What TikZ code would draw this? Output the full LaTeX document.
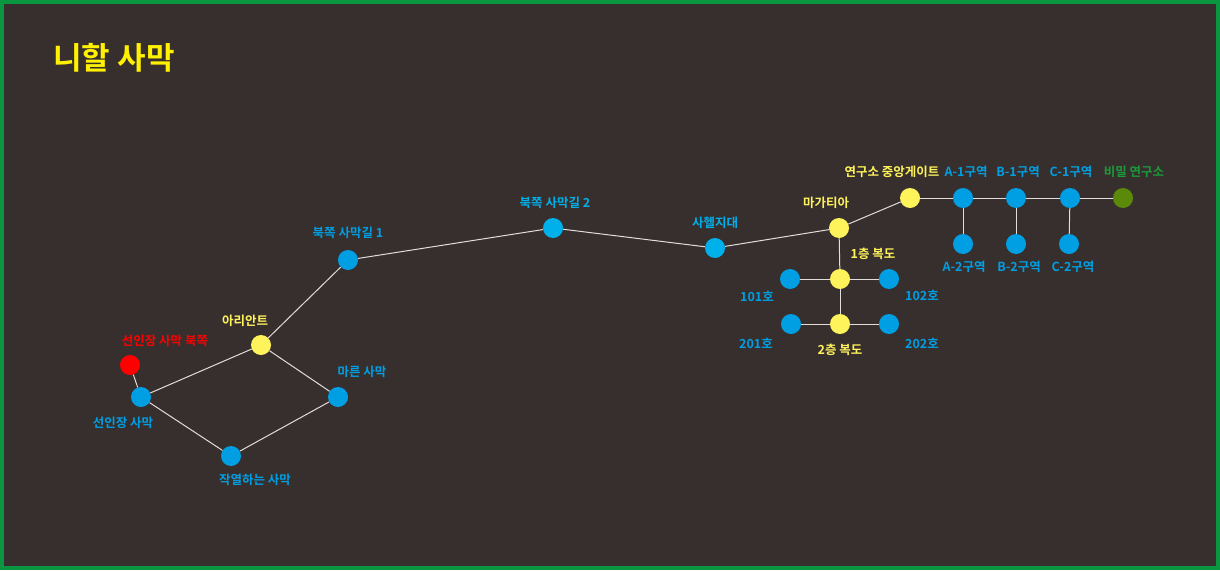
\documentclass[tikz,border=0pt]{standalone}
\usepackage{fontspec}
\newfontfamily\kr{Noto Sans CJK KR}[BoldFont={Noto Sans CJK KR Bold}]
\definecolor{bgc}{HTML}{372F2D}
\definecolor{frame}{HTML}{0A9640}
\definecolor{nblue}{HTML}{009FE3}
\definecolor{nblue2}{HTML}{00B0EB}
\definecolor{nyel}{HTML}{FFF35C}
\definecolor{tyel}{HTML}{FFF35C}
\definecolor{ttl}{HTML}{FFF100}
\definecolor{nred}{HTML}{FF0000}
\definecolor{ngreen}{HTML}{5B8A0A}
\definecolor{tgreen}{HTML}{1A9A3A}
\definecolor{edgec}{HTML}{E0DDDA}
\tikzset{
  dot/.style={circle, inner sep=0pt, minimum size=20pt},
  bdot/.style={dot, fill=nblue},
  b2dot/.style={dot, fill=nblue2},
  ydot/.style={dot, fill=nyel},
  lab/.style={font=\kr\bfseries\fontsize{12.5}{14}\selectfont, inner sep=0pt},
  blab/.style={lab, text=nblue},
  b2lab/.style={lab, text=nblue2},
  ylab/.style={lab, text=tyel},
  edge/.style={draw=edgec, line width=1pt}
}
\begin{document}
\begin{tikzpicture}[x=1pt,y=-1pt]
\fill[frame] (0,0) rectangle (1220,570);
\fill[bgc] (4,4) rectangle (1216,566);
\useasboundingbox (0,0) rectangle (1220,570);
\node[font=\kr\bfseries\fontsize{31}{35}\selectfont, text=ttl, inner sep=0pt] (title) at (114,58) {니할 사막};
% nodes
\node[dot, fill=nred] (cn) at (130,365) {};
\node[bdot] (cs) at (141,397) {};
\node[ydot] (ar) at (261,345) {};
\node[bdot] (mr) at (338,397) {};
\node[bdot] (jy) at (231,456) {};
\node[bdot] (n1) at (348,260) {};
\node[b2dot] (n2) at (553,228) {};
\node[b2dot] (sh) at (715,248) {};
\node[ydot] (mg) at (839,228) {};
\node[ydot] (gt) at (910,198) {};
\node[bdot] (a1) at (963,198) {};
\node[bdot] (b1) at (1016,198) {};
\node[bdot] (c1) at (1070,198) {};
\node[dot, fill=ngreen] (sl) at (1123,198) {};
\node[bdot] (a2) at (963,244) {};
\node[bdot] (b2) at (1016,244) {};
\node[bdot] (c2) at (1069,244) {};
\node[ydot] (f1) at (840,279) {};
\node[bdot] (r101) at (790,279) {};
\node[bdot] (r102) at (889,279) {};
\node[ydot] (f2) at (840,324) {};
\node[bdot] (r201) at (791,324) {};
\node[bdot] (r202) at (889,324) {};
% edges
\path[edge] (cn) -- (cs);
\path[edge] (cs) -- (ar);
\path[edge] (cs) -- (jy);
\path[edge] (jy) -- (mr);
\path[edge] (mr) -- (ar);
\path[edge] (ar) -- (n1);
\path[edge] (n1) -- (n2);
\path[edge] (n2) -- (sh);
\path[edge] (sh) -- (mg);
\path[edge] (mg) -- (gt);
\path[edge] (mg) -- (f1);
\path[edge] (f1) -- (r101);
\path[edge] (f1) -- (r102);
\path[edge] (f1) -- (f2);
\path[edge] (f2) -- (r201);
\path[edge] (f2) -- (r202);
\path[edge] (gt) -- (a1);
\path[edge] (a1) -- (b1);
\path[edge] (b1) -- (c1);
\path[edge] (c1) -- (sl);
\path[edge] (a1) -- (a2);
\path[edge] (b1) -- (b2);
\path[edge] (c1) -- (c2);
% labels
\node[lab, text=nred] (lcn) at (165,341) {선인장 사막 북쪽};
\node[blab] (lcs) at (123,423) {선인장 사막};
\node[ylab] (lar) at (245,321) {아리안트};
\node[blab] (lmr) at (362,372) {마른 사막};
\node[blab] (ljy) at (255,480) {작열하는 사막};
\node[blab] (ln1) at (348,233) {북쪽 사막길 1};
\node[b2lab] (ln2) at (555,203) {북쪽 사막길 2};
\node[b2lab] (lsh) at (715,223) {사헬지대};
\node[ylab] (lmg) at (826,203) {마가티아};
\node[ylab] (lgt) at (892,172) {연구소 중앙게이트};
\node[blab] (la1) at (966,172) {A-1구역};
\node[blab] (lb1) at (1018,172) {B-1구역};
\node[blab] (lc1) at (1071,172) {C-1구역};
\node[lab, text=tgreen] (lsl) at (1134,172) {비밀 연구소};
\node[blab] (la2) at (964,267) {A-2구역};
\node[blab] (lb2) at (1019,267) {B-2구역};
\node[blab] (lc2) at (1073,267) {C-2구역};
\node[ylab] (lf1) at (873,254) {1층 복도};
\node[blab] (l101) at (757,296) {101호};
\node[blab] (l102) at (922,295) {102호};
\node[blab] (l201) at (756,343) {201호};
\node[ylab] (lf2) at (840,350) {2층 복도};
\node[blab] (l202) at (922,343) {202호};
\end{tikzpicture}
\end{document}
